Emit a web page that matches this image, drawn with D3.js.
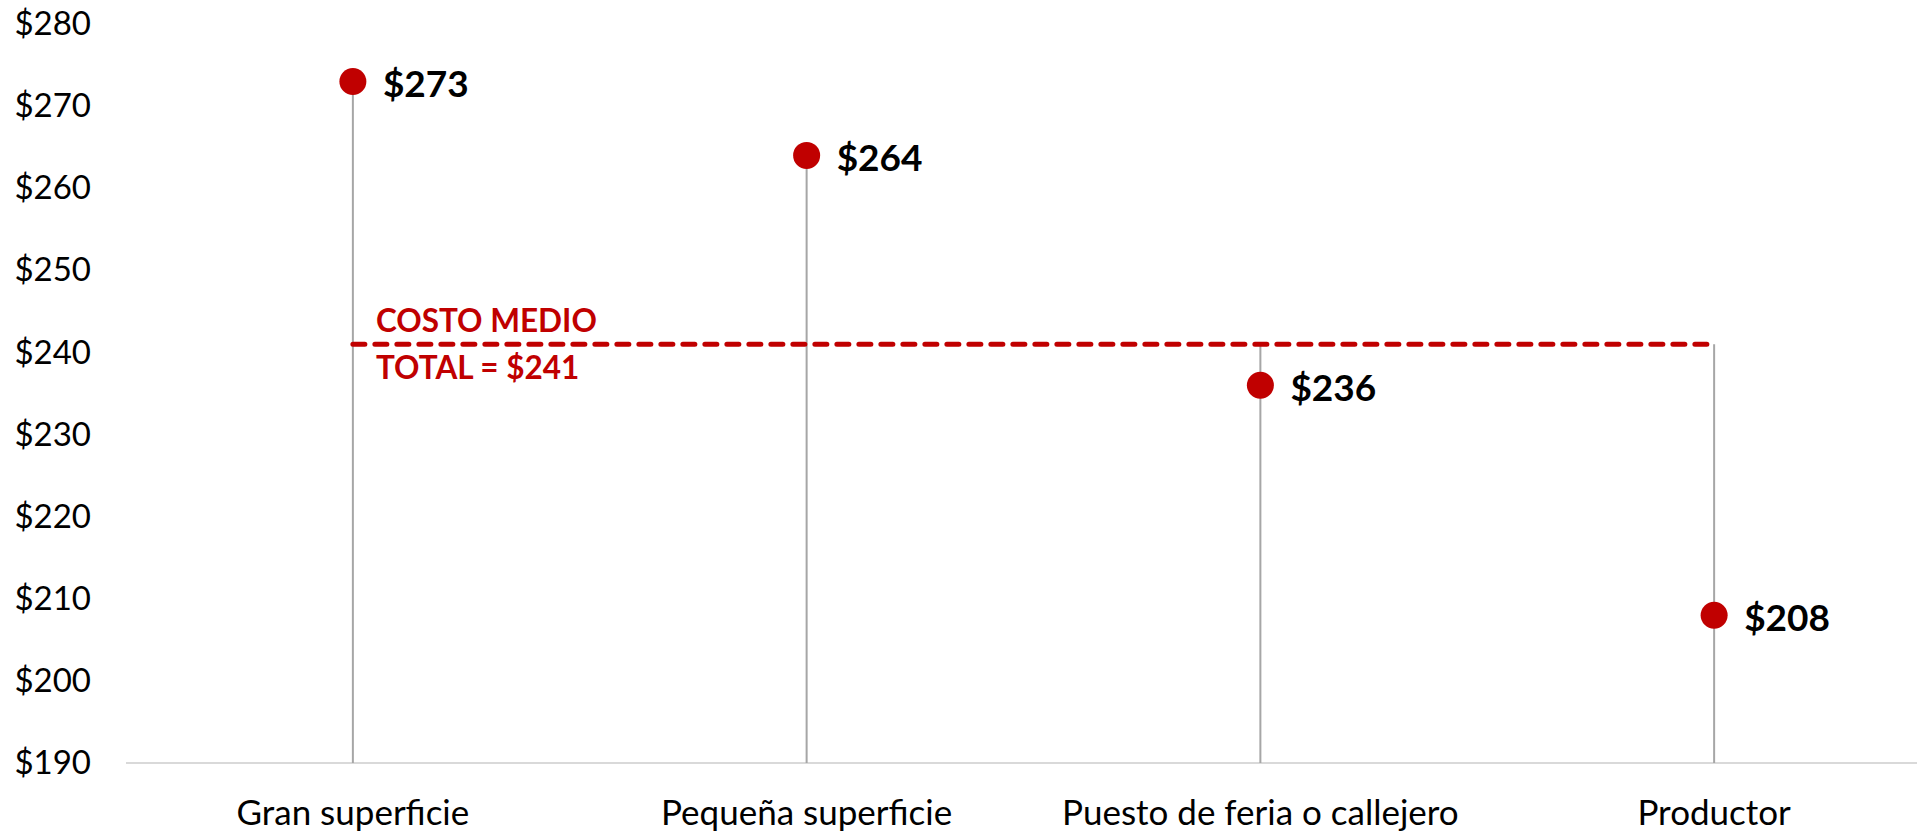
<!DOCTYPE html>
<html><head><meta charset="utf-8">
<script src="https://cdn.jsdelivr.net/npm/d3@7"></script>
<style>
html,body{margin:0;padding:0;background:#fff;}
svg{display:block;font-family:Lato, "Open Sans", sans-serif;}
</style></head>
<body>
<svg id="chart" width="1921" height="832"></svg>
<script>
const categories = ["Gran superficie","Pequeña superficie","Puesto de feria o callejero","Productor"];
const values = [273, 264, 236, 208];
const meanValue = 241;
const meanLabel = ["COSTO MEDIO","TOTAL = $241"];
const yTicks = [190,200,210,220,230,240,250,260,270,280];

const svg = d3.select("#chart");
const red = "#C00000";

const x = d3.scaleBand().domain(categories).range([126, 1941]);
const y = d3.scaleLinear().domain([190, 280]).range([763, 24]);
const cx = d => x(d) + x.bandwidth()/2;

// y axis labels
const yAxis = d3.axisLeft(y).tickValues(yTicks).tickFormat(d => "$" + d).tickSize(0).tickPadding(0);
const gy = svg.append("g").attr("transform","translate(91,0)").call(yAxis);
gy.select(".domain").remove();
gy.selectAll("text").attr("font-size",33).attr("fill","#000").attr("font-family","Lato");

// x axis line
svg.append("line").attr("x1",126).attr("x2",1917).attr("y1",y(190)).attr("y2",y(190))
  .attr("stroke","#D9D9D9").attr("stroke-width",2);

// x labels
const xAxis = d3.axisBottom(x).tickSize(0).tickPadding(0);
const gx = svg.append("g").attr("transform",`translate(0,${y(190)+50})`).call(xAxis);
gx.select(".domain").remove();
gx.selectAll("text").attr("font-size",35).attr("fill","#000").attr("font-family","Lato").attr("dy","0.35em");

// stems
svg.selectAll(".stem").data(categories).join("line").attr("class","stem")
  .attr("x1",cx).attr("x2",cx)
  .attr("y1",y(190))
  .attr("y2",(d,i)=>y(Math.max(values[i], meanValue)))
  .attr("stroke","#A6A6A6").attr("stroke-width",2);

// mean dashed line
svg.append("line")
  .attr("x1",cx(categories[0])).attr("x2",cx(categories[categories.length-1]))
  .attr("y1",y(meanValue)).attr("y2",y(meanValue))
  .attr("stroke",red).attr("stroke-width",5)
  .attr("stroke-dasharray","12,10").attr("stroke-linecap","round");

// mean label
const ml = svg.append("text").attr("font-family","Lato")
  .attr("font-weight","bold").attr("font-size",31.5).attr("fill",red);
ml.append("tspan").attr("x",cx(categories[0])+23).attr("y",y(meanValue)-23).attr("dy","0.35em").text(meanLabel[0]);
ml.append("tspan").attr("x",cx(categories[0])+23).attr("y",y(meanValue)+24).attr("dy","0.35em").text(meanLabel[1]);

// dots
svg.selectAll(".dot").data(categories).join("circle").attr("class","dot")
  .attr("cx",cx).attr("cy",(d,i)=>y(values[i])).attr("r",13.5).attr("fill",red);

// value labels
svg.selectAll(".val").data(categories).join("text").attr("class","val")
  .attr("x",d=>cx(d)+30).attr("y",(d,i)=>y(values[i])+3).attr("dy","0.35em")
  .attr("font-family","Lato").attr("font-weight","bold").attr("font-size",37).attr("fill","#000")
  .text((d,i)=>"$"+values[i]);
</script>
</body></html>
